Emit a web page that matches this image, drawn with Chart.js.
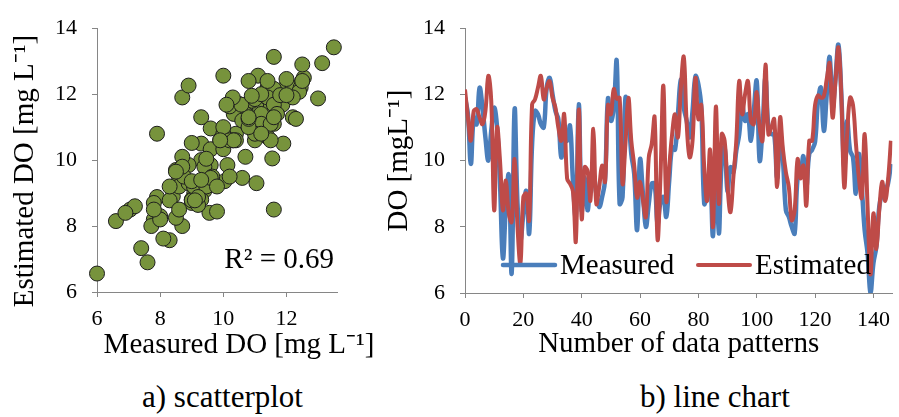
<!DOCTYPE html>
<html>
<head>
<meta charset="utf-8">
<script src="https://cdn.jsdelivr.net/npm/chart.js@4.4.1/dist/chart.umd.min.js"></script>
<style>
  body { margin: 0; background: #fff; }
  #wrap { position: relative; width: 899px; height: 417px; overflow: hidden; }
  canvas { position: absolute; top: 0; }
  .cap { position: absolute; top: 379px; font: 31px "Liberation Serif", "Times New Roman", serif; color: #000; white-space: nowrap; }
</style>
</head>
<body>
<div id="wrap">
  <canvas id="chartScatter" width="380" height="362" style="left:0"></canvas>
  <canvas id="chartLine" width="519" height="362" style="left:380px"></canvas>
  <div class="cap" style="left:142px">a) scatterplot</div>
  <div class="cap" style="left:640px">b) line chart</div>
</div>
<script>
// === DATA ===
const patternNo = Array.from({ length: 147 }, (_, i) => i);

const measuredDO = [
  11.9, 11.4, 9.9, 11.3, 11.1, 12.2, 11.6, 10.7, 10.0, 10.9,
  11.6, 11.0, 9.3, 7.05, 8.6, 9.56, 6.6, 11.55, 8.7, 7.6,
  8.4, 9.08, 7.8, 10.5, 11.5, 11.4, 11.1, 11.0, 12.2, 12.5,
  12.0, 11.5, 11.25, 10.1, 10.7, 10.6, 11.05, 9.4, 8.3, 11.7,
  8.5, 9.5, 8.5, 9.3, 9.6, 9.0, 8.6, 8.9, 9.4, 11.87,
  11.2, 11.6, 13.0, 8.7, 8.9, 11.9, 11.4, 10.2, 9.6, 7.9,
  10.04, 9.0, 8.0, 8.7, 9.3, 9.3, 8.1, 8.75, 8.9, 8.3,
  9.4, 10.4, 10.33, 11.4, 12.45, 11.6, 11.2, 10.7, 11.5, 12.55,
  12.3, 11.6, 8.7, 9.0, 9.6, 7.72, 10.2, 7.8, 10.0, 10.4,
  9.07, 9.8, 9.65, 10.3, 10.8, 11.7, 11.2, 11.4, 10.6, 11.5,
  12.4, 10.0, 11.0, 12.5, 11.0, 10.8, 10.8, 9.46, 10.8, 10.0,
  8.5, 8.3, 8.0, 7.8, 9.46, 9.6, 10.13, 9.2, 10.2, 10.33,
  10.57, 11.8, 12.2, 10.9, 12.0, 13.13, 11.6, 12.5, 13.5, 12.0,
  9.8, 11.2, 10.3, 10.1, 9.0, 10.2, 9.2, 7.9, 7.2, 6.0,
  6.9, 7.4, 8.6, 9.0, 9.1, 9.3, 9.9
];

const estimatedDO = [
  12.15, 11.3, 10.6, 11.5, 11.55, 11.3, 11.1, 11.5, 12.56, 11.8,
  8.5, 11.0, 10.0, 8.5, 9.4, 8.4, 8.15, 10.05, 8.0, 6.9,
  8.9, 9.0, 8.2, 11.7, 11.85, 12.2, 12.56, 11.85, 12.2, 12.4,
  11.9, 11.6, 11.0, 10.6, 11.4, 9.46, 9.3, 9.07, 7.57, 11.54,
  8.25, 9.8, 9.7, 8.8, 10.96, 8.7, 9.2, 9.85, 9.36, 11.68,
  11.4, 12.16, 11.87, 11.9, 9.3, 10.5, 11.9, 10.6, 9.85, 8.88,
  9.36, 8.8, 8.3, 10.1, 10.5, 11.3, 7.62, 9.5, 12.26, 8.78,
  9.8, 10.8, 11.4, 10.7, 12.2, 13.13, 11.1, 10.1, 10.6, 12.5,
  11.25, 11.68, 9.8, 8.78, 10.33, 8.0, 11.63, 8.7, 10.8, 10.6,
  9.2, 8.44, 9.5, 10.6, 12.4, 11.4, 12.0, 12.4, 11.2, 11.1,
  12.07, 11.0, 10.6, 12.9, 10.8, 11.0, 11.25, 9.2, 11.3, 10.33,
  9.65, 9.2, 8.2, 8.5, 10.04, 9.46, 9.85, 8.64, 10.6, 10.6,
  11.68, 11.97, 11.9, 11.95, 12.46, 12.94, 11.3, 12.4, 13.42, 11.97,
  9.2, 10.8, 11.9, 11.68, 10.52, 9.5, 8.88, 10.8, 8.6, 6.56,
  8.4, 7.33, 8.5, 9.36, 8.78, 9.4, 10.6
];

const doTicks = [6, 8, 10, 12, 14];
const scatterXTicks = [6, 8, 10, 12];
const patternTicks = [0, 20, 40, 60, 80, 100, 120, 140];
const seriesNames = ['Measured', 'Estimated'];
const scatterTitles = { x: 'Measured DO [mg L\u207b\u00b9]', y: 'Estimated DO [mg L\u207b\u00b9]' };
const rSquaredLabel = 'R\u00b2 = 0.69';

// === STYLE ===
const SERIF = '"Liberation Serif", "Times New Roman", serif';
const AXIS_GREY = '#868686';
const BLUE = '#4a7ebb';
const RED = '#be4b48';
const OLIVE = '#77933c';

function axisBase(ticks, pad) {
  return {
    type: 'linear',
    border: { color: AXIS_GREY, width: 1 },
    grid: { display: true, drawOnChartArea: false, drawTicks: true, tickLength: 5, color: AXIS_GREY },
    ticks: { color: '#000', font: { family: SERIF, size: 22 }, padding: pad },
    afterBuildTicks: s => { s.ticks = ticks.map(v => ({ value: v })); }
  };
}

function axisTitle(text, pad) {
  return { display: true, text: text, color: '#000', font: { family: SERIF, size: 29 }, padding: { top: pad, bottom: 0 } };
}

// === SCATTER (measured vs estimated) ===
const scatterPoints = measuredDO.map((m, i) => ({ x: m, y: estimatedDO[i] }));

// axis titles sit slightly off-centre in the original, so they are drawn here
const scatterTextPlugin = {
  id: 'scatterText',
  afterDraw(chart) {
    const { ctx, chartArea } = chart;
    const cx = (chartArea.left + chartArea.right) / 2;
    const cy = (chartArea.top + chartArea.bottom) / 2;
    ctx.save();
    ctx.font = '29px ' + SERIF;
    ctx.fillStyle = '#000';
    ctx.textBaseline = 'middle';
    ctx.textAlign = 'center';
    ctx.fillText(scatterTitles.x, cx + 22, chartArea.bottom + 53);
    ctx.save();
    ctx.translate(25, cy + 11);
    ctx.rotate(-Math.PI / 2);
    ctx.fillText(scatterTitles.y, 0, 0);
    ctx.restore();
    ctx.textAlign = 'right';
    ctx.textBaseline = 'alphabetic';
    ctx.fillText(rSquaredLabel, chartArea.right - 3, chartArea.bottom - 24);
    ctx.restore();
  }
};

new Chart(document.getElementById('chartScatter'), {
  type: 'scatter',
  data: {
    datasets: [{
      data: scatterPoints,
      pointRadius: 7.5,
      pointHoverRadius: 7.5,
      backgroundColor: OLIVE,
      borderColor: '#1e1e1e',
      borderWidth: 1,
      clip: false
    }]
  },
  options: {
    responsive: false,
    animation: false,
    layout: { padding: { top: 19, right: 43, left: 0, bottom: 0 } },
    plugins: { legend: { display: false }, tooltip: { enabled: false } },
    scales: {
      x: Object.assign(axisBase(scatterXTicks, 9), {
        min: 6, max: 13.6,
        afterFit: s => { s.height = 70; }
      }),
      y: Object.assign(axisBase(doTicks, 15), {
        min: 6, max: 14,
        afterFit: s => { s.width = 97; }
      })
    }
  },
  plugins: [scatterTextPlugin]
});

// === LINE CHART ===
const lineLegendPlugin = {
  id: 'lineLegend',
  afterDatasetsDraw(chart) {
    const { ctx, chartArea } = chart;
    const items = [
      { ds: chart.data.datasets[1], x: chartArea.left + 38 },
      { ds: chart.data.datasets[0], x: chartArea.left + 233 }
    ];
    const y = chartArea.bottom - 28;
    ctx.save();
    items.forEach(it => {
      ctx.strokeStyle = it.ds.borderColor;
      ctx.lineWidth = it.ds.borderWidth;
      ctx.lineCap = 'round';
      ctx.beginPath();
      ctx.moveTo(it.x, y);
      ctx.lineTo(it.x + 52, y);
      ctx.stroke();
      ctx.font = '29px ' + SERIF;
      ctx.fillStyle = '#000';
      ctx.textAlign = 'left';
      ctx.textBaseline = 'middle';
      ctx.fillText(it.ds.label, it.x + 57, y + 1);
    });
    ctx.restore();
  }
};

new Chart(document.getElementById('chartLine'), {
  type: 'line',
  data: {
    datasets: [
      {
        label: seriesNames[1],
        data: patternNo.map((p, i) => ({ x: p, y: estimatedDO[i] })),
        borderColor: RED,
        borderWidth: 4,
        tension: 0.4,
        pointRadius: 0,
        order: 0
      },
      {
        label: seriesNames[0],
        data: patternNo.map((p, i) => ({ x: p, y: measuredDO[i] })),
        borderColor: BLUE,
        borderWidth: 4.5,
        tension: 0.4,
        pointRadius: 0,
        order: 1
      }
    ]
  },
  options: {
    responsive: false,
    animation: false,
    layout: { padding: { top: 17, right: 2, left: 0, bottom: 0 } },
    plugins: { legend: { display: false }, tooltip: { enabled: false } },
    scales: {
      x: Object.assign(axisBase(patternTicks, 9), {
        min: 0, max: 146.5,
        title: axisTitle('Number of data patterns', 2),
        afterFit: s => { s.height = 69; }
      }),
      y: Object.assign(axisBase(doTicks, 15), {
        min: 6, max: 14,
        title: axisTitle('DO [mgL\u207b\u00b9]', 2),
        afterFit: s => { s.width = 85; }
      })
    }
  },
  plugins: [lineLegendPlugin]
});
</script>
</body>
</html>
